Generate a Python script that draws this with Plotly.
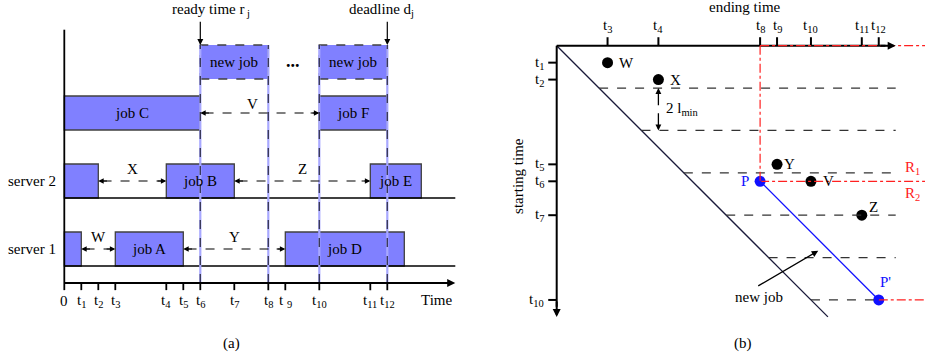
import plotly.graph_objects as go

# ---------------- data ----------------
# time instants on the common time scale (one unit per tick step)
tick_values = [0, 1, 2, 3, 6, 7, 8, 10, 12, 13, 15, 18, 19]
tick_labels = ["0", "t<sub>1</sub>", "t<sub>2</sub>", "t<sub>3</sub>", "t<sub>4</sub>",
               "t<sub>5</sub>", "t<sub>6</sub>", "t<sub>7</sub>", "t<sub>8</sub>",
               "t <sub>9</sub>", "t<sub>10</sub>", "t<sub>11</sub>", "t<sub>12</sub>"]

# scheduled jobs per row: (start, end, label)
server1_jobs = [(0, 1, ""), (3, 7, "job A"), (13, 20, "job D")]
server2_jobs = [(0, 2, ""), (6, 10, "job B"), (18, 21, "job E")]
row3_jobs = [(0, 8, "job C"), (15, 19, "job F")]
new_jobs = [(8, 12, "new job"), (15, 19, "new job")]

# rows: (bottom, top) on panel (a) vertical scale
row_server1 = (1, 3)
row_server2 = (5, 7)
row_job3 = (9, 11)
row_new = (12, 14)

# idle gaps: name, start, end, row
gap_names = ["W", "X", "Y", "V", "Z"]
gap_start = [1, 2, 7, 8, 10]
gap_end = [3, 6, 13, 15, 18]
gap_row = ["s1", "s2", "s1", "j3", "s2"]

ready_time = 8
deadline = 19
marker_lines = [8, 12, 15, 19]

# panel (b): ending-time axis ticks and starting-time axis ticks
end_ticks = [3, 6, 12, 13, 15, 18, 19]
end_labels = ["t<sub>3</sub>", "t<sub>4</sub>", "t<sub>8</sub>", "t<sub>9</sub>",
              "t<sub>10</sub>", "t<sub>11</sub>", "t<sub>12</sub>"]
start_ticks = [1, 2, 7, 8, 10, 15]
start_labels = ["t<sub>1</sub>", "t<sub>2</sub>", "t<sub>5</sub>", "t<sub>6</sub>",
                "t<sub>7</sub>", "t<sub>10</sub>"]
grid_levels = [2.5, 5, 7.5, 10, 12.5, 15]   # multiples of 2 l_min
P = (12, 8)        # (ending, starting)
P_prime = (19, 15)

FONT = "Liberation Serif"
BOX = "#8080ff"
EDGE = "#404040"
RED = "#ff2020"
BLUE = "#1010ff"

fig = go.Figure()
shapes = []
ann = []


def line(xr, x0, y0, x1, y1, color="black", width=1.2, dash="solid"):
    shapes.append(dict(type="line", xref=xr, yref=xr.replace("x", "y"),
                       x0=x0, y0=y0, x1=x1, y1=y1,
                       line=dict(color=color, width=width, dash=dash)))


def text(xr, x, y, s, size=15, color="black", xanchor="center", yanchor="middle", angle=0):
    ann.append(dict(xref=xr, yref=xr.replace("x", "y"), x=x, y=y, text=s, showarrow=False,
                    font=dict(family=FONT, size=size, color=color),
                    xanchor=xanchor, yanchor=yanchor, textangle=angle))


def arrow(xr, x, y, ax, ay, color="black", width=1.2, head=2, size=1.0):
    ann.append(dict(xref=xr, yref=xr.replace("x", "y"), axref=xr, ayref=xr.replace("x", "y"),
                    x=x, y=y, ax=ax, ay=ay, text="", showarrow=True,
                    arrowhead=head, arrowsize=size, arrowwidth=width, arrowcolor=color,
                    font=dict(family=FONT, size=15)))


# ---------------- panel (a) ----------------
rows = {"s1": row_server1, "s2": row_server2, "j3": row_job3}
for jobs, (b, t) in [(server1_jobs, row_server1), (server2_jobs, row_server2), (row3_jobs, row_job3)]:
    fig.add_trace(go.Bar(
        orientation="h", y=[(b + t) / 2] * len(jobs), x=[e - s for s, e, _ in jobs],
        base=[s for s, _, _ in jobs], width=t - b,
        marker=dict(color=BOX, line=dict(color=EDGE, width=1.3)),
        xaxis="x", yaxis="y", showlegend=False, hoverinfo="skip"))
    for s, e, lab in jobs:
        if lab:
            text("x", (s + e) / 2, (b + t) / 2, lab)

# server baselines
for b in (row_server1[0], row_server2[0]):
    line("x", 0, b, 23, b, color="black", width=1.3)

# new-job windows (dashed boxes)
for s, e, lab in new_jobs:
    shapes.append(dict(type="rect", xref="x", yref="y", x0=s, x1=e, y0=row_new[0], y1=row_new[1],
                       fillcolor=BOX, line=dict(color=EDGE, width=1.5, dash="dash")))
    text("x", (s + e) / 2, sum(row_new) / 2, lab)
text("x", 13.45, 13.05, "<b>...</b>", size=18)

# vertical markers
for xv in marker_lines:
    line("x", xv, 0, xv, row_new[1], color="#a8a8ff", width=2.2)
    line("x", xv, 0, xv, row_new[1], color="#3a3a5a", width=1.4, dash="dash")

# axes
line("x", 0, 0, 0, 14.9, width=1.8)
line("x", 0, 0, 22.3, 0, width=1.8)
arrow("x", 23.0, 0, 21.9, 0, width=1.8, head=2, size=0.9)
for tv, tl in zip(tick_values, tick_labels):
    line("x", tv, 0, tv, -0.42, width=1.8)
    text("x", tv, -1.05, tl, yanchor="middle")
text("x", 21.9, -1.0, "Time")
text("x", -0.4, sum(row_server2) / 2, "server 2", xanchor="right")
text("x", -0.4, sum(row_server1) / 2, "server 1", xanchor="right")

# ready time / deadline
arrow("x", ready_time, row_new[1], ready_time, 15.45, width=1.2)
arrow("x", deadline, row_new[1], deadline, 15.45, width=1.2)
text("x", ready_time + 0.6, 16.05, "ready time r<sub> j</sub>")
text("x", deadline - 0.35, 16.05, "deadline d<sub>j</sub>")

# gap arrows
label_y = {"s1": 2.72, "s2": 6.7, "j3": 10.55}
for n, s, e, r in zip(gap_names, gap_start, gap_end, gap_row):
    yc = sum(rows[r]) / 2
    line("x", s + 0.25, yc, e - 0.25, yc, width=1.2, dash="dash")
    arrow("x", s, yc, s + 0.6, yc, width=1.2, size=0.9)
    arrow("x", e, yc, e - 0.6, yc, width=1.2, size=0.9)
    text("x", (s + e) / 2 - (0.45 if n == "V" else 0), label_y[r], n)

text("x", 9.86, -3.55, "(a)")

# ---------------- panel (b) ----------------
# scatter points of idle gaps (ending time, starting time)
fig.add_trace(go.Scatter(x=gap_end, y=gap_start, mode="markers",
                         marker=dict(color="black", size=11), xaxis="x2", yaxis="y2",
                         showlegend=False, hoverinfo="skip"))

# diagonal (ending = starting)
line("x2", 0, 0, 16, 16, color="#1a1a3a", width=1.3)

# dashed levels
for lv in grid_levels:
    line("x2", lv, lv, 20 if lv != 15 else P_prime[0], lv, color="#333333", width=1.3, dash="dash")
arrow("x2", 6, 2.5, 6, 3.6, width=1.3, size=0.9)
arrow("x2", 6, 5, 6, 3.9, width=1.3, size=0.9)
text("x2", 6.35, 3.75, "2 l<sub>min</sub>", xanchor="left")

# axes
line("x2", 0, 0, 19.4, 0, width=2)
arrow("x2", 20, 0, 19.0, 0, width=2, size=0.8)
line("x2", 0, 0, 0, 15.4, width=2)
arrow("x2", 0, 16, 0, 15.0, width=2, size=0.8)
for tv, tl in zip(end_ticks, end_labels):
    line("x2", tv, 0, tv, -0.5, width=2)
    text("x2", tv, -1.15, tl)
for tv, tl in zip(start_ticks, start_labels):
    line("x2", 0, tv, -0.5, tv, width=2)
    text("x2", -0.62, tv, tl, xanchor="right")
text("x2", 11.1, -2.28, "ending time")
text("x2", -2.3, 7.7, "starting time", angle=-90)

# feasible regions boundaries
line("x2", P[0], 0, P[0], P[1], color=RED, width=1.2, dash="dashdot")
line("x2", P[0], 0, 23, 0, color=RED, width=1.2, dash="dashdot")
line("x2", P[0], P[1], 23, P[1], color=RED, width=1.2, dash="dashdot")
line("x2", P_prime[0], P_prime[1], 23, P_prime[1], color=RED, width=1.2, dash="dashdot")
text("x2", 20.45, 7.2, "R<sub>1</sub>", color=RED, xanchor="left")
text("x2", 20.45, 8.75, "R<sub>2</sub>", color=RED, xanchor="left")

# new job segment P -> P'
line("x2", P[0], P[1], P_prime[0], P_prime[1], color=BLUE, width=1.3)
fig.add_trace(go.Scatter(x=[P[0], P_prime[0]], y=[P[1], P_prime[1]], mode="markers",
                         marker=dict(color=BLUE, size=11), xaxis="x2", yaxis="y2",
                         showlegend=False, hoverinfo="skip"))
text("x2", 11.45, 8.0, "P", color=BLUE, xanchor="right")
text("x2", 18.95, 14.55, "P'", color=BLUE, xanchor="left", yanchor="bottom")

# point labels
lab_off = {"W": (0.55, 0), "X": (0.55, 0), "Y": (0.3, 0), "V": (0.6, 0), "Z": (0.3, -0.5)}
for n, s, e in zip(gap_names, gap_start, gap_end):
    dx, dy = lab_off[n]
    text("x2", e + dx, s + dy, n, xanchor="left")

# new job pointer
arrow("x2", 15.43, 12.1, 11.8, 14.22, width=1.3, size=1.0)
text("x2", 11.93, 14.85, "new job")
text("x2", 11.0, 17.55, "(b)")

fig.update_layout(
    width=925, height=358, margin=dict(l=0, r=0, t=0, b=0),
    paper_bgcolor="white", plot_bgcolor="white",
    shapes=shapes, annotations=ann, barmode="overlay",
    xaxis=dict(domain=[0, 0.5], range=[-64.3 / 17, (462.5 - 64.3) / 17], visible=False, fixedrange=True),
    yaxis=dict(domain=[0, 1], range=[(283 - 358) / 17, 283 / 17], visible=False, fixedrange=True, anchor="x"),
    xaxis2=dict(domain=[0.5, 1], range=[(462.5 - 556.7) / 16.95, (925 - 556.7) / 16.95], visible=False,
                fixedrange=True, anchor="y2"),
    yaxis2=dict(domain=[0, 1], range=[(358 - 45.7) / 16.95, -45.7 / 16.95], visible=False,
                fixedrange=True, anchor="x2"),
    font=dict(family=FONT, size=15, color="black"),
)

fig.write_html("out.html")
